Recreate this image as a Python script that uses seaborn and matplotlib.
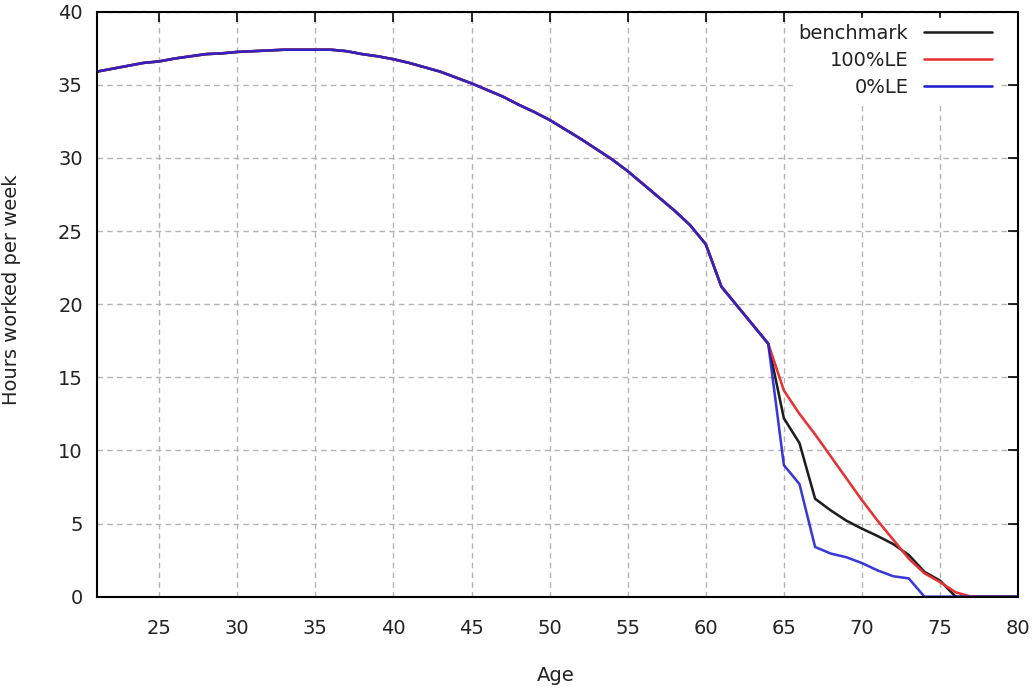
import pandas as pd
import seaborn as sns
import matplotlib.pyplot as plt

# ages 21..80
ages = list(range(21, 81))

# shared part of the profile, ages 21..64
common = [35.9, 36.1, 36.3, 36.5, 36.6, 36.8, 36.95, 37.1, 37.15, 37.25,
          37.3, 37.35, 37.4, 37.4, 37.4, 37.4, 37.3, 37.1, 36.95, 36.75,
          36.5, 36.2, 35.9, 35.5, 35.1, 34.65, 34.2, 33.65, 33.15, 32.6,
          31.95, 31.3, 30.6, 29.9, 29.1, 28.2, 27.3, 26.4, 25.4, 24.1,
          21.2, 19.9, 18.6, 17.3]

# ages 65..80
benchmark_tail = [12.2, 10.5, 6.7, 5.9, 5.2, 4.65, 4.15, 3.6, 2.85, 1.7,
                  1.1, 0.0, 0.0, 0.0, 0.0, 0.0]
le100_tail = [14.1, 12.5, 11.1, 9.6, 8.1, 6.6, 5.2, 3.9, 2.6, 1.6,
              1.0, 0.3, 0.0, 0.0, 0.0, 0.0]
le0_tail = [9.0, 7.7, 3.4, 2.95, 2.7, 2.3, 1.8, 1.4, 1.25, 0.0,
            0.0, 0.0, 0.0, 0.0, 0.0, 0.0]

series_names = ['benchmark', '100%LE', '0%LE']
series_colors = ['#1e1e1e', '#e63232', '#1e1ed2']

x_ticks = list(range(25, 85, 5))
y_ticks = list(range(0, 45, 5))

rows = []
for name, tail in zip(series_names, [benchmark_tail, le100_tail, le0_tail]):
    for a, v in zip(ages, common + tail):
        rows.append({'Age': a, 'Hours': v, 'series': name})
df = pd.DataFrame(rows)

sns.set_style('white')
plt.rcParams['font.family'] = ['DejaVu Sans']
plt.rcParams['font.size'] = 14

fig = plt.figure(figsize=(10.33, 6.88), dpi=100)
ax = fig.add_axes([0.0936, 0.1327, 0.892, 0.8503])

ax.grid(True, color='#b4b4b4', linestyle=(0, (4, 3)), linewidth=1.0)
ax.set_axisbelow(True)

sns.lineplot(data=df, x='Age', y='Hours', hue='series', hue_order=series_names,
             palette=series_colors, linewidth=1.85, ax=ax, legend=True)
# blue drawn last, slightly see-through so the shared part looks purple
ax.lines[2].set_alpha(0.88)

ax.set_xlim(21, 80)
ax.set_ylim(0, 40)
ax.set_xticks(x_ticks)
ax.set_yticks(y_ticks)

for sp in ax.spines.values():
    sp.set_color('black')
    sp.set_linewidth(1.5)

ax.tick_params(axis='both', direction='in', length=7, width=1.2, colors='black',
               top=True, right=True, labelsize=14, labelcolor='#222222')
ax.tick_params(axis='x', pad=16)
ax.tick_params(axis='y', pad=10)

ax.set_xlabel('Age', fontsize=14, color='#222222')
ax.set_ylabel('Hours worked per week', fontsize=14, color='#222222')
ax.xaxis.set_label_coords(0.498, -0.118)
ax.yaxis.set_label_coords(-0.082, 0.524)

handles, labels = ax.get_legend_handles_labels()
for h in handles:
    h.set_alpha(1)
leg = ax.legend(handles, labels, loc='upper right', bbox_to_anchor=(0.978, 0.989),
                markerfirst=False, frameon=True, fancybox=False, borderpad=0.3,
                borderaxespad=0, handlelength=3.5, handletextpad=0.8,
                labelspacing=0.42, fontsize=14)
leg.get_frame().set_facecolor('white')
leg.get_frame().set_edgecolor('white')
leg.get_frame().set_alpha(1)
for t in leg.get_texts():
    t.set_color('#222222')

fig.savefig('out.png', dpi=100)
